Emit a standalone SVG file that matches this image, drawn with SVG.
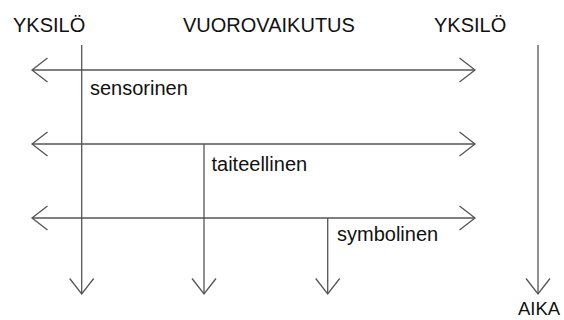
<svg xmlns="http://www.w3.org/2000/svg" width="564" height="320" viewBox="0 0 564 320">
<style>
.t{font-family:"Liberation Sans",Arial,sans-serif;font-size:20px;fill:#111}
.c{stroke:#555;stroke-width:1.3;fill:none}
</style>
<defs>
<marker id="ah" markerUnits="userSpaceOnUse" markerWidth="40" markerHeight="40" refX="0" refY="0" viewBox="-20 -20 40 40" orient="auto-start-reverse" overflow="visible">
<path d="M-15.5,-12 L0,0 L-15.5,12" fill="none" stroke="#555" stroke-width="1.3"/>
</marker>
</defs>
<rect width="564" height="320" fill="#fff"/>
<g id="connectors">
<line class="c" x1="32" y1="70" x2="475" y2="70" marker-start="url(#ah)" marker-end="url(#ah)"/>
<line class="c" x1="32" y1="144" x2="475" y2="144" marker-start="url(#ah)" marker-end="url(#ah)"/>
<line class="c" x1="32" y1="218" x2="475" y2="218" marker-start="url(#ah)" marker-end="url(#ah)"/>
<line class="c" x1="81.7" y1="45" x2="81.7" y2="294" marker-end="url(#ah)"/>
<line class="c" x1="204" y1="144" x2="204" y2="294" marker-end="url(#ah)"/>
<line class="c" x1="327.7" y1="218" x2="327.7" y2="294" marker-end="url(#ah)"/>
<line class="c" x1="538" y1="45" x2="538" y2="294" marker-end="url(#ah)"/>
</g>
<g id="yksilo-left"><text class="t" x="13" y="31.7">YKSILÖ</text></g>
<g id="vuorovaikutus"><text class="t" x="183" y="31.7">VUOROVAIKUTUS</text></g>
<g id="yksilo-right"><text class="t" x="434" y="31.7">YKSILÖ</text></g>
<g id="sensorinen"><text class="t" x="90" y="95">sensorinen</text></g>
<g id="taiteellinen"><text class="t" x="211.5" y="171">taiteellinen</text></g>
<g id="symbolinen"><text class="t" x="337" y="241">symbolinen</text></g>
<g id="aika"><text class="t" x="518" y="315" style="font-size:18.5px">AIKA</text></g>
</svg>
